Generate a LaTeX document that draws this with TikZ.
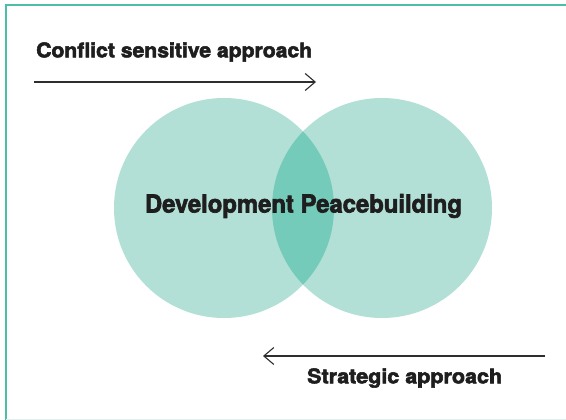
\documentclass[tikz,border=0pt]{standalone}
\usepackage{fontspec}
\setmainfont{TeX Gyre Heros}[BoldFeatures={FakeBold=2.6}]
\definecolor{frame}{HTML}{4DBFA8}
\definecolor{light}{HTML}{B2DFD6}
\definecolor{dark}{HTML}{74CBBA}
\definecolor{ink}{HTML}{1E1E1E}
\definecolor{arrowc}{HTML}{2E2E2E}
\tikzset{
  lbl/.style={inner sep=0pt, font=\bfseries, text=ink},
  flow/.style={draw=arrowc, line width=1.1pt, -{Straight Barb[length=10pt, width=17pt, line width=1.1pt]}},
}
\usetikzlibrary{arrows.meta}
\begin{document}
\begin{tikzpicture}[x=1pt,y=-1pt]
\useasboundingbox (0,0) rectangle (566,420);
\fill[white] (0,0) rectangle (566,420);
% frame
\draw[frame, line width=2pt] (5.5,420) -- (5.5,5) -- (566,5);
\draw[frame!20, line width=1pt] (6,419.5) -- (566,419.5);
% circles
\fill[light] (224,208) circle (110);
\fill[light] (382,208) circle (110);
\begin{scope}
  \clip (224,208) circle (110);
  \fill[dark] (382,208) circle (110);
\end{scope}
\node[lbl, anchor=west] (conf) at (36,52) {\resizebox{276pt}{15pt}{Conflict sensitive approach}};
\coordinate (a1s) at (34,82);
\coordinate (a1e) at (316,82);
\draw[flow] (a1s) -- (a1e);
\node[lbl] (center) at (303.5,206) {\resizebox{317pt}{18.5pt}{Development Peacebuilding}};
\coordinate (a2s) at (545,356);
\coordinate (a2e) at (263,356);
\draw[flow] (a2s) -- (a2e);
\node[lbl, anchor=west] (strat) at (307,378) {\resizebox{195pt}{15pt}{Strategic approach}};
\end{tikzpicture}
\end{document}
